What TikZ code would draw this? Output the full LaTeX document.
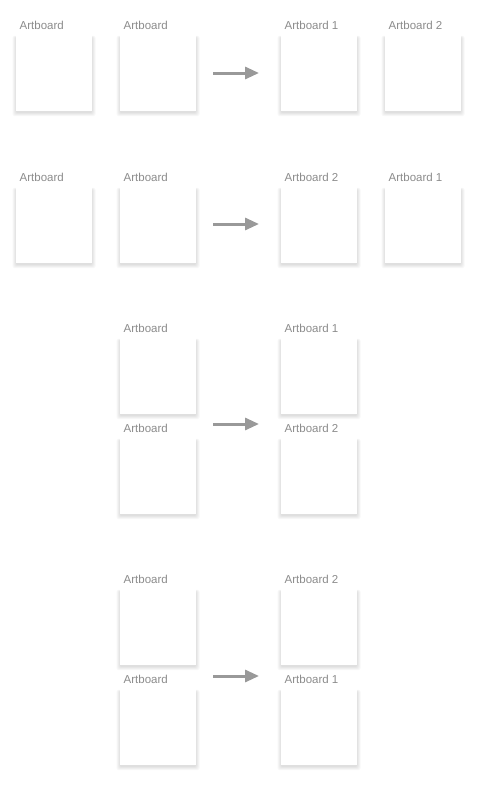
\documentclass[tikz,border=0pt]{standalone}
\usepackage{fontspec}
\setmainfont{Liberation Sans}
\usetikzlibrary{arrows.meta}
\definecolor{lbl}{HTML}{8C8C8C}
\definecolor{arr}{HTML}{999999}
\tikzset{
  board/.style={fill=white, draw=none, minimum width=76pt, minimum height=76pt, inner sep=0pt, anchor=north west},
  shade layer/.style={fill=black, opacity=0.03, rounded corners=2pt},
  boardlabel/.style={text=lbl, font=\fontsize{11.5pt}{13pt}\selectfont, inner sep=0pt, anchor=base west},
  flow/.style={draw=arr, line width=3pt, -{Triangle[length=14pt,width=12pt]}}
}
\newcommand{\artb}[4]{%
  \foreach \r in {0.5,1.5,2.5,3.5}{%
    \fill[shade layer] (#2-\r,#3+2-0.3*\r) rectangle (#2+76+\r,#3+76+1.5+\r);
  }
  \node[board] (#1) at (#2,#3) {};
  \node[boardlabel] (#1l) at (#2+3.5,#3-6) {#4};
}
\begin{document}
\begin{tikzpicture}[x=1pt,y=-1pt]
\useasboundingbox[fill=white] (0,0) rectangle (478,787);
% row 1
\artb{a11}{16}{35}{Artboard}
\artb{a12}{120}{35}{Artboard}
\artb{a13}{281}{35}{Artboard 1}
\artb{a14}{385}{35}{Artboard 2}
\coordinate (s1) at (213,73);
\coordinate (e1) at (259,73);
\draw[flow] (s1) -- (e1);
% row 2
\artb{a21}{16}{187}{Artboard}
\artb{a22}{120}{187}{Artboard}
\artb{a23}{281}{187}{Artboard 2}
\artb{a24}{385}{187}{Artboard 1}
\coordinate (s2) at (213,224);
\coordinate (e2) at (259,224);
\draw[flow] (s2) -- (e2);
% row 3
\artb{a31}{120}{338}{Artboard}
\artb{a32}{120}{438}{Artboard}
\artb{a33}{281}{338}{Artboard 1}
\artb{a34}{281}{438}{Artboard 2}
\coordinate (s3) at (213,424);
\coordinate (e3) at (259,424);
\draw[flow] (s3) -- (e3);
% row 4
\artb{a41}{120}{589}{Artboard}
\artb{a42}{120}{689}{Artboard}
\artb{a43}{281}{589}{Artboard 2}
\artb{a44}{281}{689}{Artboard 1}
\coordinate (s4) at (213,676);
\coordinate (e4) at (259,676);
\draw[flow] (s4) -- (e4);
\end{tikzpicture}
\end{document}
